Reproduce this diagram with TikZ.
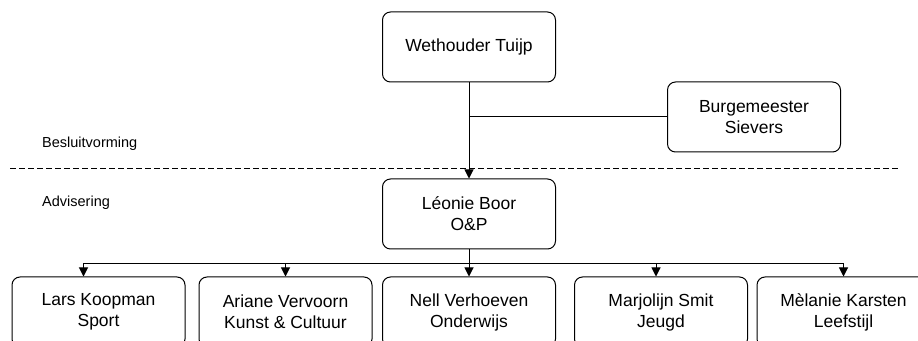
\documentclass[tikz,border=0pt]{standalone}
\usepackage{fontspec}
\setmainfont{Liberation Sans}
\usetikzlibrary{arrows.meta}

\tikzset{
  box/.style={draw, line width=1pt, rounded corners=8pt, minimum width=173pt,
    minimum height=70pt, align=center, font=\fontsize{17.5}{21}\selectfont},
  level/.style={anchor=base west, inner sep=0pt, font=\fontsize{14.5}{17}\selectfont},
  link/.style={line width=1pt},
  arrow/.style={link, -{Triangle[length=9pt,width=9pt]}}
}

\begin{document}
\begin{tikzpicture}[x=1pt,y=1pt]
  \useasboundingbox (0,0) rectangle (918,340);
  \clip (0,0) rectangle (918,340);

  % besluitvorming
  \node[box] (wethouder) at (469,293) {Wethouder Tuijp};
  \node[box] (burgemeester) at (754,223) {Burgemeester\\Sievers};

  \draw[link, dash pattern=on 6pt off 3pt] (10,171) -- (898,171);
  \node[level] (besluit) at (42,192) {Besluitvorming};
  \node[level] (advies) at (42,133) {Advisering};

  % advisering
  \node[box] (leonie) at (469,126) {Léonie Boor\\O\&P};

  \node[box] (lars) at (98.5,28) {Lars Koopman\\Sport};
  \node[box] (ariane) at (285.5,28) {Ariane Vervoorn\\Kunst \& Cultuur};
  \node[box] (nell) at (469,28) {Nell Verhoeven\\Onderwijs};
  \node[box] (marjolijn) at (661,28) {Marjolijn Smit\\Jeugd};
  \node[box] (melanie) at (843.5,28) {Mèlanie Karsten\\Leefstijl};

  \draw[arrow] (wethouder) -- (leonie);
  \draw[link] (burgemeester) -- (burgemeester -| wethouder);

  \draw[link] (leonie.south) -- ++(0,-14) coordinate (bus);
  \draw[link] ([xshift=-15pt]lars.north |- bus) -- (melanie.north |- bus);
  \draw[arrow] ([xshift=-15pt]lars.north |- bus) -- ([xshift=-15pt]lars.north);
  \draw[arrow] ([xshift=-5pt]marjolijn.north |- bus) -- ([xshift=-5pt]marjolijn.north);
  \foreach \n in {ariane,nell,melanie}
    \draw[arrow] (\n.north |- bus) -- (\n.north);
\end{tikzpicture}
\end{document}
